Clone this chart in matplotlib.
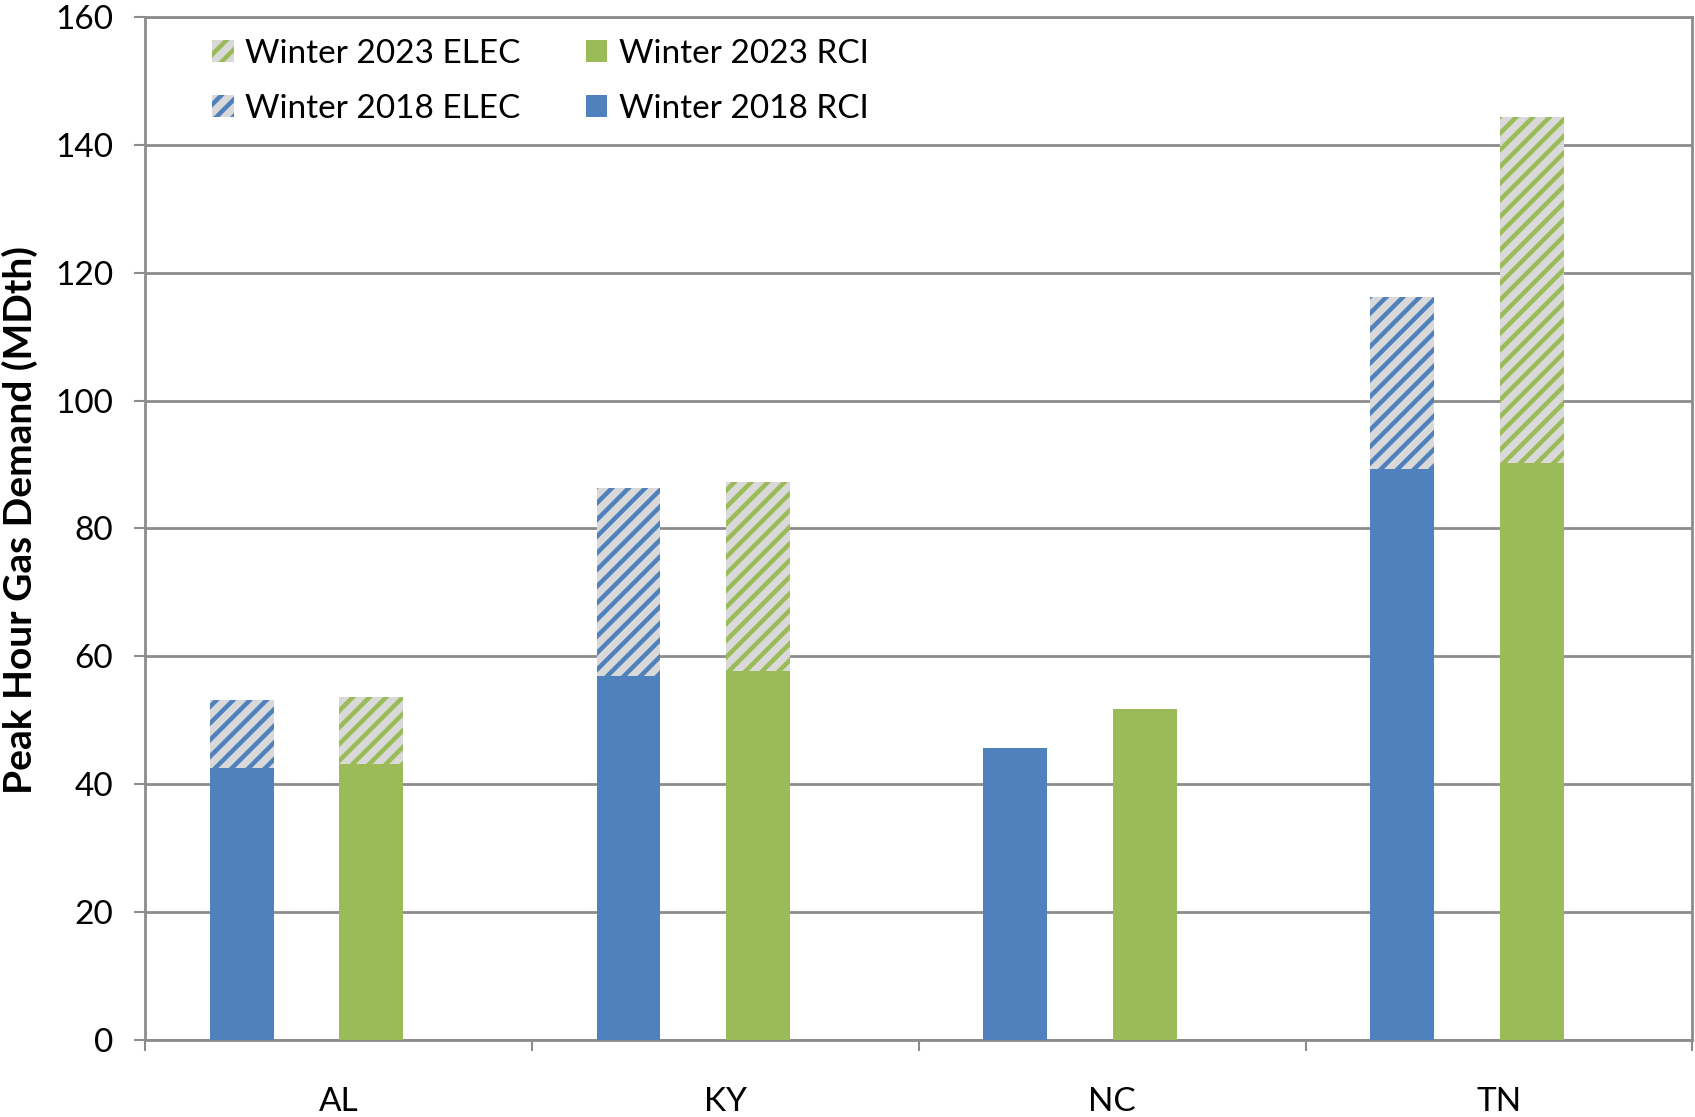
import numpy as np
import matplotlib
matplotlib.use('Agg')
import matplotlib.pyplot as plt
from matplotlib.patches import Patch

# Data (MDth)
states = ['AL', 'KY', 'NC', 'TN']
rci_2018 = [42.5, 57.0, 45.7, 89.3]
elec_2018 = [10.6, 29.4, 0.0, 26.9]
rci_2023 = [43.1, 57.7, 51.8, 90.3]
elec_2023 = [10.5, 29.6, 0.0, 54.0]

blue = '#4F81BD'
green = '#9BBB59'
stripe_bg = '#D9D9D9'

plt.rcParams['font.family'] = ['Lato', 'DejaVu Sans']
plt.rcParams['hatch.linewidth'] = 3.2

fig = plt.figure(figsize=(16.95, 11.17), dpi=100)
ax = fig.add_axes([0.0855, 0.069, 0.913, 0.9158])

x = np.arange(len(states))
w = 0.165
x18 = x - 0.25
x23 = x + 0.085

ax.bar(x18, rci_2018, width=w, color=blue, zorder=3)
ax.bar(x18, elec_2018, width=w, bottom=rci_2018, facecolor=stripe_bg,
       edgecolor=blue, hatch='//', linewidth=0, zorder=3)
ax.bar(x23, rci_2023, width=w, color=green, zorder=3)
ax.bar(x23, elec_2023, width=w, bottom=rci_2023, facecolor=stripe_bg,
       edgecolor=green, hatch='//', linewidth=0, zorder=3)

ax.set_xlim(-0.5, len(states) - 0.5)
ax.set_ylim(0, 160)
ax.set_yticks(np.arange(0, 161, 20))
ax.yaxis.grid(True, color='#8C8C8C', linewidth=2)
ax.set_axisbelow(True)

# category labels centred, tick marks on boundaries
ax.set_xticks(np.arange(-0.5, len(states)), minor=False)
ax.set_xticklabels([])
ax.set_xticks(x, minor=True)
ax.set_xticklabels(states, minor=True)
ax.tick_params(axis='x', which='major', length=8, width=1.5, color='#8C8C8C', direction='out')
ax.tick_params(axis='x', which='minor', length=0, pad=34, labelsize=24)
ax.tick_params(axis='y', length=8, width=1.5, color='#8C8C8C', labelsize=24, pad=15)

for s in ax.spines.values():
    s.set_color('#8C8C8C')
    s.set_linewidth(2)

ax.set_ylabel('Peak Hour Gas Demand (MDth)', fontsize=28, fontweight='bold')
ax.yaxis.set_label_coords(-0.069, 0.508)

handles = [
    Patch(facecolor=stripe_bg, edgecolor=green, hatch='//', linewidth=0, label='Winter 2023 ELEC'),
    Patch(facecolor=stripe_bg, edgecolor=blue, hatch='//', linewidth=0, label='Winter 2018 ELEC'),
    Patch(facecolor=green, label='Winter 2023 RCI'),
    Patch(facecolor=blue, label='Winter 2018 RCI'),
]
ax.legend(handles=handles, ncol=2, loc='upper left', bbox_to_anchor=(0.024, 1.008),
          frameon=False, fontsize=24, handlelength=0.65, handleheight=0.65,
          handletextpad=0.35, columnspacing=1.95, labelspacing=0.75)

fig.savefig('out.png', dpi=100)
